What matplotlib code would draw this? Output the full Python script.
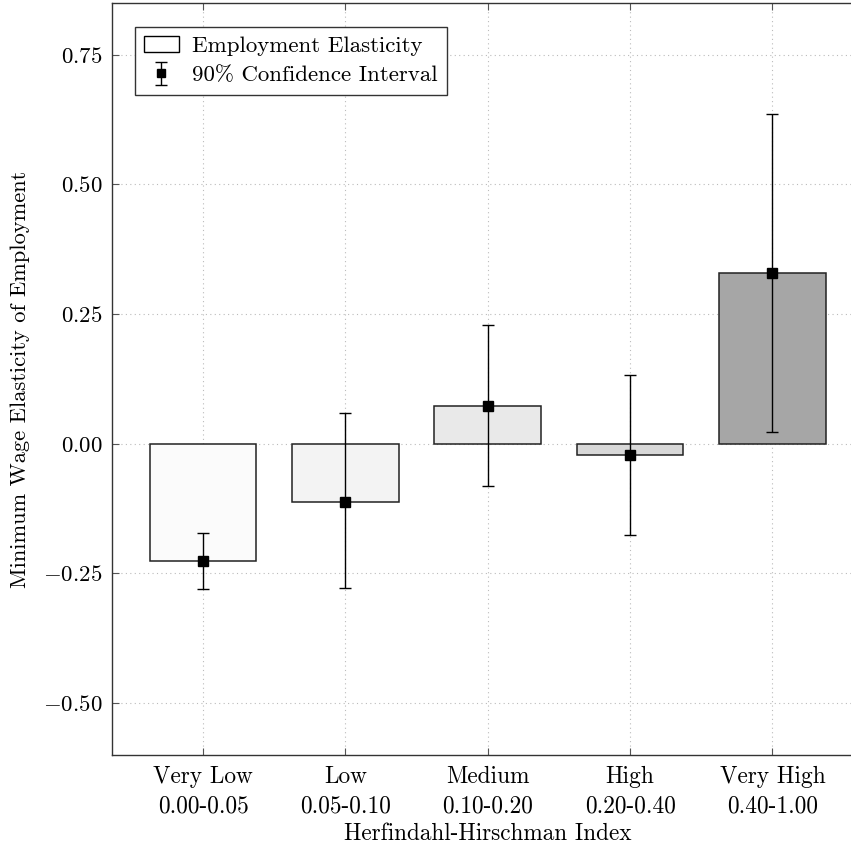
import numpy as np
import matplotlib
matplotlib.use("Agg")
import matplotlib.pyplot as plt
from matplotlib.patches import Patch

plt.rcParams["font.family"] = "cmr10"
plt.rcParams["mathtext.fontset"] = "cm"
plt.rcParams["axes.formatter.use_mathtext"] = True

# Dati
categorie = ["Very Low\n0.00-0.05", "Low\n0.05-0.10", "Medium\n0.10-0.20",
             "High\n0.20-0.40", "Very High\n0.40-1.00"]
elasticita = [-0.226, -0.112, 0.073, -0.021, 0.330]
ci_basso = [-0.280, -0.278, -0.081, -0.176, 0.023]
ci_alto = [-0.172, 0.060, 0.228, 0.133, 0.636]
colori = ["#fbfbfb", "#f3f3f3", "#e9e9e9", "#d8d8d8", "#a6a6a6"]
y_ticks = [-0.50, -0.25, 0.00, 0.25, 0.50, 0.75]

fig = plt.figure(figsize=(8.51, 8.46), dpi=100)
ax = fig.add_axes([0.1316, 0.1076, 0.8831, 0.889])

x = np.arange(len(categorie))
ax.bar(x, elasticita, width=0.75, color=colori, edgecolor="#222222",
       linewidth=1.1, zorder=2)

err = [np.array(elasticita) - np.array(ci_basso),
       np.array(ci_alto) - np.array(elasticita)]
ci = ax.errorbar(x, elasticita, yerr=err, fmt="s", color="black", ms=6.8,
                 elinewidth=1.0, capsize=4, capthick=1.0, zorder=3)

ax.set_xlim(-0.64, 4.64)
ax.set_ylim(-0.6, 0.85)
ax.set_xticks(x)
ax.set_xticklabels(categorie, fontsize=16.8, linespacing=1.4)
ax.set_yticks(y_ticks)
ax.set_yticklabels([r"$%.2f$" % v for v in y_ticks], fontsize=16.5)
ax.tick_params(direction="in", length=5, width=0.8, top=True, right=True,
               color="#555555", pad=7)
ax.tick_params(axis="x", pad=8)

ax.grid(True, linestyle=(0, (1, 3)), color="#bbbbbb", linewidth=0.8, zorder=0)
ax.set_axisbelow(True)
for s in ax.spines.values():
    s.set_linewidth(1.0)
    s.set_color("#333333")

ax.set_xlabel("Herfindahl-Hirschman Index", fontsize=16.7, labelpad=4)
ax.set_ylabel("Minimum Wage Elasticity of Employment", fontsize=16.2, labelpad=9)

handle_bar = Patch(facecolor="white", edgecolor="black", linewidth=1.0)
leg = ax.legend([handle_bar, ci],
                ["Employment Elasticity", "90% Confidence Interval"],
                loc="upper left", bbox_to_anchor=(0.03, 0.968), fontsize=16.5,
                fancybox=False, framealpha=1, edgecolor="#333333",
                borderpad=0.4, handlelength=1.55, labelspacing=0.4,
                handletextpad=0.55, borderaxespad=0, markerscale=0.85)
leg.get_frame().set_linewidth(1.0)

fig.savefig("out.png", dpi=100)
